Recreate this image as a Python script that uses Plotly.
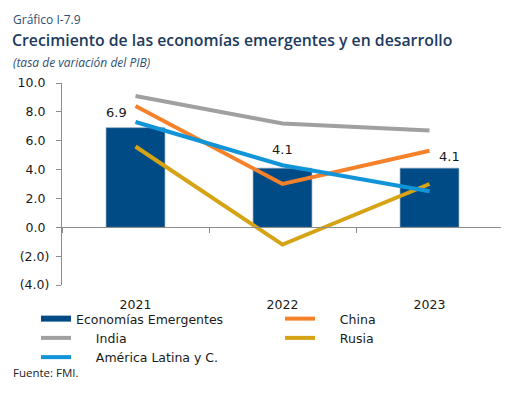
import plotly.graph_objects as go

years = ["2021", "2022", "2023"]
emergentes = [6.9, 4.1, 4.1]
china = [8.4, 3.0, 5.3]
india = [9.1, 7.2, 6.7]
rusia = [5.6, -1.2, 3.0]
latam = [7.3, 4.3, 2.5]
emergentes_labels = ["6.9", "4.1", "4.1"]
y_tickvals = [-4, -2, 0, 2, 4, 6, 8, 10]
y_ticktext = ["(4.0)", "(2.0)", "0.0\u00a0", "2.0\u00a0", "4.0\u00a0", "6.0\u00a0", "8.0\u00a0", "10.0\u00a0"]

NAVY = "#004b85"
ORANGE = "#f5822a"
GRAY = "#a0a0a0"
GOLD = "#d6a315"
BLUE = "#1295d8"
TXT = "#1a1a1a"
NUM_FONT = "DejaVu Sans"
HEAD_FONT = "Open Sans"

W, H = 509, 393
OFF = 8  # page body margin
L, R, T, B = 54, 14, 75, 116
pw, ph = W - L - R, H - T - B

def px(xp):
    return (xp - OFF - L) / pw

def py(yp):
    return (H - B - (yp - OFF)) / ph

SP = "\u00a0" * 5

fig = go.Figure()
fig.add_trace(go.Bar(x=years, y=emergentes, marker=dict(color=NAVY, line=dict(color="#7d98b3", width=0.6)),
                     width=0.4, showlegend=False, legendgroup="em", hoverinfo="skip"))
# legend entry for the bars (wide swatch as in the reference)
fig.add_trace(go.Scatter(x=years, y=[None] * len(years), mode="lines", line=dict(color=NAVY, width=6),
                         name="Economías Emergentes", legendgroup="em"))
fig.add_trace(go.Scatter(x=years, y=china, mode="lines", line=dict(color=ORANGE, width=4),
                         name=SP + "China"))
fig.add_trace(go.Scatter(x=years, y=india, mode="lines", line=dict(color=GRAY, width=4),
                         name=SP + "India"))
fig.add_trace(go.Scatter(x=years, y=rusia, mode="lines", line=dict(color=GOLD, width=4),
                         name=SP + "Rusia"))
fig.add_trace(go.Scatter(x=years, y=latam, mode="lines", line=dict(color=BLUE, width=4),
                         name=SP + "América Latina y C."))

# zero-line axis with ticks at category boundaries
fig.add_trace(go.Scatter(x=years, y=[0] * len(years), xaxis="x2", mode="lines",
                         line=dict(width=0), showlegend=False, hoverinfo="skip"))

shifts = [(-19, 15), (0, 19), (20, 12)]
for i, (v, lab, (xs, ys)) in enumerate(zip(emergentes, emergentes_labels, shifts)):
    fig.add_annotation(x=i, y=v, xref="x", yref="y", text=lab, showarrow=False, xshift=xs, yshift=ys,
                       font=dict(family=NUM_FONT, size=13, color=TXT))

fig.add_annotation(xref="paper", yref="paper", x=px(12), y=py(20), xanchor="left", yanchor="middle",
                   text="Gráfico I-7.9", showarrow=False, borderpad=0,
                   font=dict(family=HEAD_FONT, size=12, color="#2f4f73"))
fig.add_annotation(xref="paper", yref="paper", x=px(11), y=py(40), xanchor="left", yanchor="middle",
                   text="Crecimiento de las economías emergentes y en desarrollo", showarrow=False, borderpad=0,
                   font=dict(family=HEAD_FONT, size=15.8, color="#1d3b5e", weight=600))
fig.add_annotation(xref="paper", yref="paper", x=px(12), y=py(63), xanchor="left", yanchor="middle",
                   text="<i>(tasa de variación del PIB)</i>", showarrow=False, borderpad=0,
                   font=dict(family=HEAD_FONT, size=12, color="#2f4f73"))
fig.add_annotation(xref="paper", yref="paper", x=px(12), y=py(372), xanchor="left", yanchor="middle",
                   text="Fuente: FMI.", showarrow=False, borderpad=0,
                   font=dict(family=HEAD_FONT, size=11.5, color="#222222"))

fig.update_layout(
    width=W, height=H,
    margin=dict(l=L, r=R, t=T, b=B, autoexpand=False),
    paper_bgcolor="white", plot_bgcolor="white",
    xaxis=dict(type="category", categoryorder="array", categoryarray=years, range=[-0.5, 2.5],
               showline=False, showgrid=False, zeroline=False, automargin=False,
               ticks="outside", ticklen=8, tickcolor="rgba(0,0,0,0)",
               tickfont=dict(family=NUM_FONT, size=12.5, color=TXT)),
    xaxis2=dict(type="category", categoryorder="array", categoryarray=years, range=[-0.5, 2.5],
                overlaying="x", anchor="free", position=4 / 14, side="bottom", automargin=False,
                showline=True, linecolor="#8c8c8c", linewidth=1.3, showticklabels=False,
                ticks="outside", ticklen=5, tickcolor="#8c8c8c", tickwidth=1.3, tickson="boundaries",
                showgrid=False, zeroline=False),
    yaxis=dict(range=[-4, 10], tickvals=y_tickvals, ticktext=y_ticktext, showgrid=False, zeroline=False,
               automargin=False,
               showline=True, linecolor="#8c8c8c", linewidth=1.3, ticks="outside", ticklen=5,
               tickcolor="#8c8c8c", tickwidth=1.3, ticklabelstandoff=4,
               tickfont=dict(family=NUM_FONT, size=12.5, color=TXT)),
    legend=dict(orientation="h", x=px(36), y=py(304), xanchor="left", yanchor="top",
                entrywidth=199, entrywidthmode="pixels", bgcolor="rgba(0,0,0,0)",
                font=dict(family=NUM_FONT, size=12.5, color=TXT), tracegroupgap=0,
                itemwidth=30),
    showlegend=True,
)

fig.write_html("out.html")
